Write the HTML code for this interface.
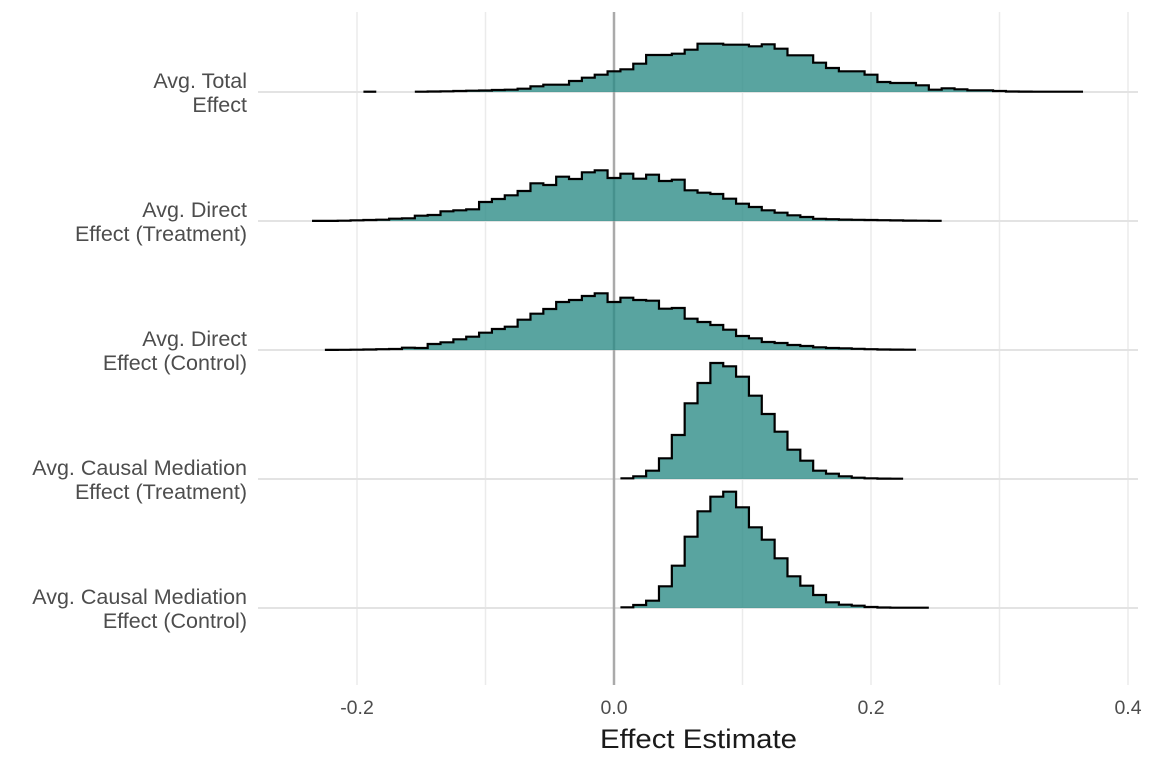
<!DOCTYPE html>
<html><head><meta charset="utf-8"><style>
html,body{margin:0;padding:0;background:#fff;}
svg{display:block;font-family:"Liberation Sans",sans-serif;}
</style></head><body>
<svg id="chart" width="1152" height="768" viewBox="0 0 1152 768">
<g id="grid"></g>
<g id="ridges"></g>
<g id="ylabels"></g>
<g id="xlabels"></g>
<text x="600" y="748" textLength="197" lengthAdjust="spacingAndGlyphs" font-size="27" fill="#1a1a1a">Effect Estimate</text>
</svg>
<script>
const categories = [
  ["Avg. Total","Effect"],
  ["Avg. Direct","Effect (Treatment)"],
  ["Avg. Direct","Effect (Control)"],
  ["Avg. Causal Mediation","Effect (Treatment)"],
  ["Avg. Causal Mediation","Effect (Control)"]
];
const binWidth = 0.01;
const binStarts = [-0.195, -0.235, -0.225, 0.005, 0.005];
const totalHeights = [0.3,0,0,0,0.3,0.5,0.7,1,1.3,1.5,2,2.3,3.3,5.7,7.3,7.3,11,14.3,17.3,20.7,22.7,28.3,37,37,38.3,42.3,48.3,48.3,47.3,47.3,45.7,47.7,43.3,36.7,36.7,29.3,24,20.7,20.7,17.3,10,9,9,6.7,2.3,3.7,2.7,1.7,1.7,1,0.5,0.4,0.3,0.3,0.3,0.3];
const directTreatHeights = [0.1,0.1,0.3,0.7,1,1.3,2.3,2.7,5.3,6,9.7,10.7,11.7,19,22,25.7,30,37.7,36,44.3,42,48.7,50.7,43,47.3,42.3,46.3,40,41.3,30.7,28.3,27,22.3,17.3,14,10.7,8.3,5.7,4,2.2,1.8,1.4,1.2,1,0.8,0.6,0.4,0.3,0.2];
const directCtrlHeights = [0.1,0.2,0.3,0.5,0.8,1,2.3,2,6,7.7,10.7,13.3,17.3,21,23.3,30.3,36.3,41,48,50,54,56.7,48,52.3,50,49.3,41.3,42,31.3,28,25,20.3,14,11.7,8,7,5,4,2.7,2,1.7,1.2,0.8,0.5,0.4,0.3];
const acmeTreatHeights = [0.7,2.7,8.3,20.7,44,75.7,96,116,112.7,102.3,83.3,65,47.3,29.3,18.3,8.3,5.3,2.7,1.3,0.7,0.4,0.3];
const acmeCtrlHeights = [0.7,3,7.3,21.7,42.3,71.3,96.7,111.3,116.3,100.7,80.7,68.3,49.7,31.7,22.3,13,5.7,3.3,2.3,1,0.5,0.3,0.3,0.3];
const xTicks = [-0.2, 0.0, 0.2, 0.4];
const xTickLabels = ["-0.2","0.0","0.2","0.4"];
const minorTicks = [-0.1, 0.1, 0.3];
const seriesHeights = [totalHeights, directTreatHeights, directCtrlHeights, acmeTreatHeights, acmeCtrlHeights];

const NS = "http://www.w3.org/2000/svg";
const xs = v => 614 + v * 1285;
const rowBase = i => 92 + i * 129;
const hs = h => h;
const plotL = 258, plotR = 1138, plotT = 12, plotB = 685;
function mk(tag, attrs, parent){const e=document.createElementNS(NS,tag);for(const k in attrs)e.setAttribute(k,attrs[k]);parent.appendChild(e);return e;}

const grid = document.getElementById('grid');
minorTicks.concat(xTicks).forEach((t,i)=>{
  const l = mk('line',{x1:xs(t),x2:xs(t),y1:plotT,y2:plotB,stroke:'#ebebeb','stroke-width':1.5},grid);
  
  
});
categories.forEach((c,i)=>{
  const l = mk('line',{x1:plotL,x2:plotR,y1:rowBase(i),y2:rowBase(i),stroke:'#e3e3e3','stroke-width':2},grid);
  
  
});
const zl = mk('line',{x1:xs(0),x2:xs(0),y1:plotT,y2:plotB,stroke:'#aaaaaa','stroke-width':2.5},grid);



const ridges = document.getElementById('ridges');
seriesHeights.forEach((arr,i)=>{
  const base = rowBase(i);
  const g = mk('g',{},ridges);
  
  
  let segs=[], cur=null;
  arr.forEach((h,k)=>{
    if(h>0){ if(!cur){cur=[];segs.push(cur);} cur.push([binStarts[i]+k*binWidth,h]); }
    else cur=null;
  });
  segs.forEach(seg=>{
    let d='', fillD='';
    seg.forEach(([x0,h],j)=>{
      const a=xs(x0), b=xs(x0+binWidth), y=base-hs(h);
      if(j===0){ d+=`M${a},${y}`; fillD+=`M${a},${base}L${a},${y}`; }
      else { d+=`L${a},${y}`; fillD+=`L${a},${y}`; }
      d+=`L${b},${y}`; fillD+=`L${b},${y}`;
    });
    const lastX = xs(seg[seg.length-1][0]+binWidth);
    fillD+=`L${lastX},${base}Z`;
    const f = mk('path',{d:fillD,fill:'#2a8a85','fill-opacity':0.78,stroke:'none'},g);
    
    
    const o = mk('path',{d:d,fill:'none',stroke:'#000','stroke-width':2.2,'stroke-linejoin':'miter'},g);
    
    
  });
});

const yl = document.getElementById('ylabels');
categories.forEach((c,i)=>{
  const t = mk('text',{x:247,y:rowBase(i)-4,'text-anchor':'end','font-size':21.5,fill:'#4d4d4d'},yl);
  
  
  t.textContent=c[0];
  const t2 = mk('text',{x:247,y:rowBase(i)+20,'text-anchor':'end','font-size':21.5,fill:'#4d4d4d'},yl);
  
  
  t2.textContent=c[1];
});
const xl = document.getElementById('xlabels');
xTicks.forEach((t,i)=>{
  const e = mk('text',{x:xs(t),y:714,'text-anchor':'middle','font-size':19.5,fill:'#4d4d4d'},xl);
  
  
  e.textContent=xTickLabels[i];
});
</script>
</body></html>
